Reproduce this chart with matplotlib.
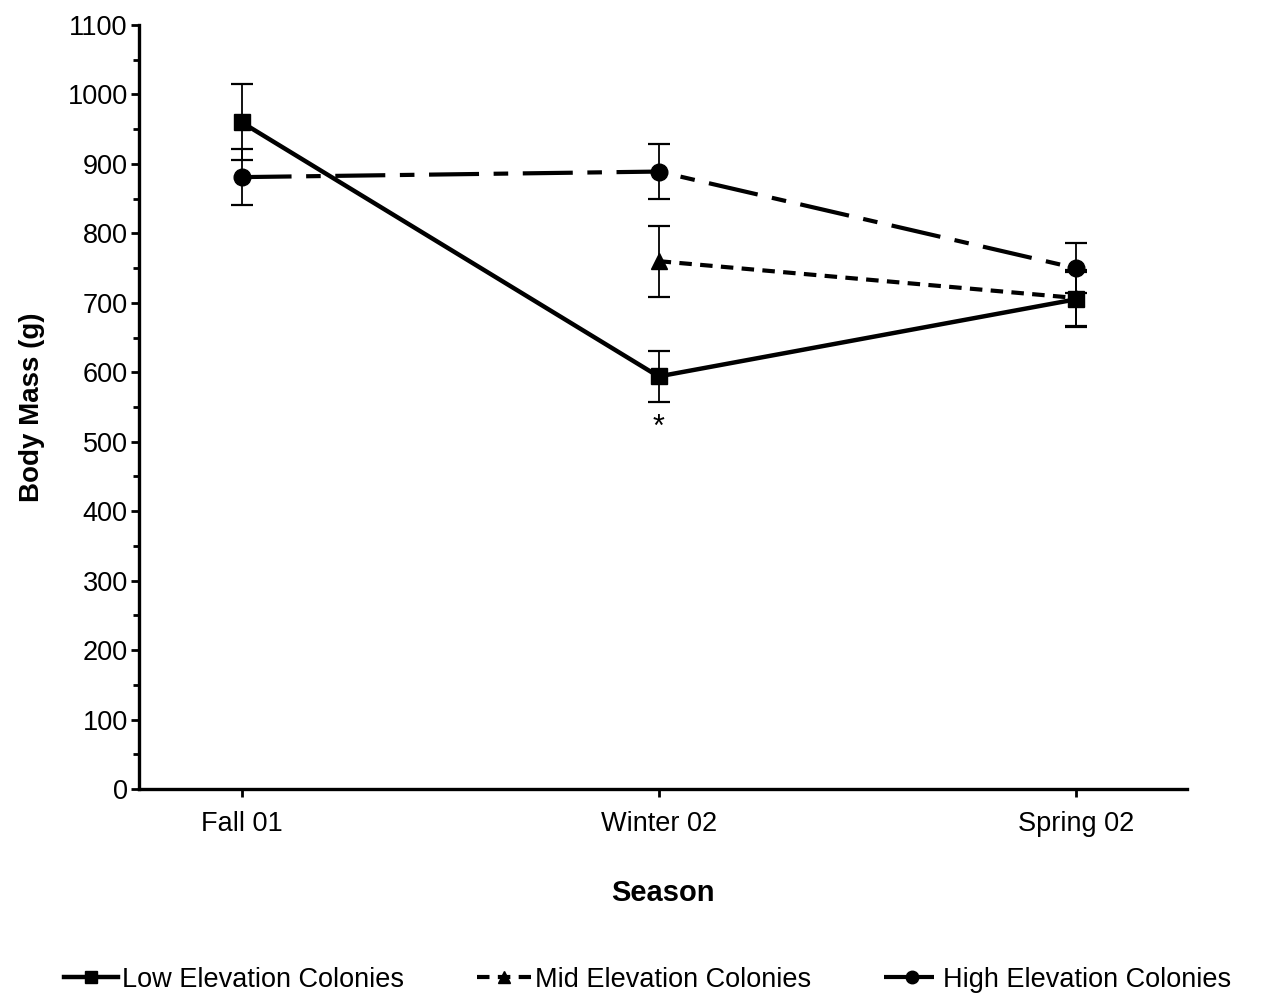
import numpy as np
import matplotlib.pyplot as plt
from matplotlib.ticker import MultipleLocator
from matplotlib.lines import Line2D

plt.rcParams['font.family'] = ['Liberation Sans', 'DejaVu Sans']

### Data
seasons = ['Fall 01', 'Winter 02', 'Spring 02']
low_mass = [960, 594, 705]
low_err = [55, 37, 40]
mid_mass = [np.nan, 760, 707]
mid_err = [np.nan, 51, 40]
high_mass = [881, 889, 750]
high_err = [40, 40, 36]
star_pos = (1, 520)

x = np.arange(len(seasons))

fig = plt.figure(figsize=(12.69, 10.01), dpi=100)
ax = fig.add_axes([0.1095, 0.2118, 0.8259, 0.7632])

ekw = dict(ecolor='black', elinewidth=1.3, capsize=8, capthick=1.6)
high_style = dict(color='black', lw=3, dashes=(12, 3.5, 3.5, 3.5), marker='o')
mid_style = dict(color='black', lw=3, dashes=(3, 2), marker='^')
low_style = dict(color='black', lw=3.2, linestyle='-', marker='s')

ax.errorbar(x, high_mass, yerr=high_err, zorder=3, ms=12, **high_style, **ekw)
ax.errorbar(x, mid_mass, yerr=mid_err, zorder=4, ms=12, **mid_style, **ekw)
ax.errorbar(x, low_mass, yerr=low_err, zorder=5, ms=12, **low_style, **ekw)

ax.text(star_pos[0], star_pos[1], '*', ha='center', va='center', fontsize=22)

ax.set_xlim(-0.246, 2.267)
ax.set_ylim(0, 1100)
ax.set_xticks(x)
ax.set_xticklabels(seasons)
ax.yaxis.set_major_locator(MultipleLocator(100))
ax.yaxis.set_minor_locator(MultipleLocator(50))

for s in ['top', 'right']:
    ax.spines[s].set_visible(False)
for s in ['left', 'bottom']:
    ax.spines[s].set_linewidth(2.4)

ax.tick_params(axis='both', which='major', direction='out', length=6, width=2,
               labelsize=19.5, pad=2)
ax.tick_params(axis='y', which='minor', direction='out', length=4, width=2)
ax.tick_params(axis='x', pad=10)

ax.set_xlabel('Season', fontsize=21, fontweight='bold', labelpad=30)
ax.set_ylabel('Body Mass (g)', fontsize=20, fontweight='bold', labelpad=16)

handles = [Line2D([], [], ms=9, **low_style),
           Line2D([], [], ms=9, **mid_style),
           Line2D([], [], ms=9, **high_style)]
labels = ['Low Elevation Colonies', 'Mid Elevation Colonies', 'High Elevation Colonies']
fig.legend(handles, labels,
           loc='lower center', bbox_to_anchor=(0.51, -0.008), ncol=3,
           frameon=False, fontsize=19.5, handlelength=2.0, handletextpad=0.15,
           columnspacing=2.7, borderaxespad=0.2)

plt.savefig('out.png', dpi=100)
